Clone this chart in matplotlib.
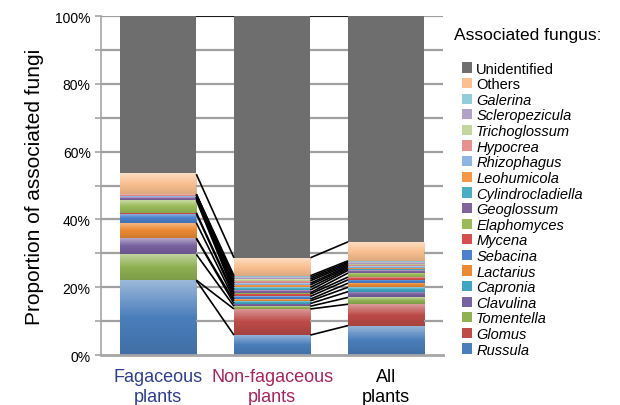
import numpy as np
import matplotlib.pyplot as plt
from matplotlib.colors import LinearSegmentedColormap, to_rgb
from matplotlib.patches import Patch

plt.rcParams['font.family'] = ['Liberation Sans', 'DejaVu Sans']

groups = ['Fagaceous\nplants', 'Non-fagaceous\nplants', 'All\nplants']
group_colors = ['#2f3d8f', '#a8245e', '#000000']

# bottom to top
genera = ['Russula', 'Glomus', 'Tomentella', 'Clavulina', 'Capronia', 'Lactarius',
          'Sebacina', 'Mycena', 'Elaphomyces', 'Geoglossum', 'Cylindrocladiella',
          'Leohumicola', 'Rhizophagus', 'Hypocrea', 'Trichoglossum', 'Scleropezicula',
          'Galerina', 'Others', 'Unidentified']

fagaceous = [22.0, 0.1, 7.6, 4.7, 0.1, 4.5, 2.7, 0.3, 3.7, 0.8, 0.05,
             0.05, 0.2, 0.5, 0.05, 0.05, 0.05, 5.9]
non_fagaceous = [5.9, 7.7, 0.8, 0.8, 0.8, 0.5, 0.8, 0.7, 0.4, 0.8, 0.8,
                 0.7, 0.5, 0.7, 0.5, 0.5, 0.5, 5.3]
all_plants = [8.7, 6.3, 2.0, 1.7, 1.3, 1.2, 1.0, 0.8, 1.2, 0.8, 0.4,
              0.4, 0.4, 0.4, 0.4, 0.4, 0.4, 5.6]

colors = ['#4a7ebb', '#bd4b48', '#8fb152', '#7861a0', '#40a5c0', '#ec8a34',
          '#4a80cc', '#d4504c', '#9bbb59', '#8064a2', '#4bacc6', '#f79646',
          '#8eb4e3', '#e8928f', '#c3d69b', '#b3a2c7', '#93cddd', '#fac090',
          '#6e6e6e']

data = []
for vals in (fagaceous, non_fagaceous, all_plants):
    vals = list(vals)
    vals.append(100 - sum(vals))
    data.append(vals)
data = np.array(data)  # groups x genera

fig = plt.figure(figsize=(6.2, 4.06), dpi=100)
ax = fig.add_axes([0.163, 0.123, 0.552, 0.835])

x = np.arange(len(groups))
w = 0.67
bottoms = np.zeros(len(groups))

for j, name in enumerate(genera):
    base = np.array(to_rgb(colors[j]))
    bars = ax.bar(x, data[:, j], w, bottom=bottoms, color=colors[j], zorder=2, linewidth=0)
    if name != 'Unidentified':
        light = base + (1 - base) * 0.45
        dark = base * 0.88
        cmap = LinearSegmentedColormap.from_list('g', [dark, base, light])
        grad = np.linspace(1, 0, 64).reshape(-1, 1)
        for i, b in enumerate(bars):
            if data[i, j] < 0.3:
                continue
            ax.imshow(grad, cmap=cmap, aspect='auto', zorder=2.5, interpolation='nearest',
                      extent=[b.get_x(), b.get_x() + w, bottoms[i], bottoms[i] + data[i, j]])
    bottoms += data[:, j]

# gridlines in the gaps between bars
gap_left = np.concatenate([[-0.5], x + w / 2])
gap_right = np.concatenate([x - w / 2, [2.5]])
for v in range(10, 101, 10):
    ax.hlines([v] * len(gap_left), gap_left, gap_right, color='#a0a0a0', lw=1.6, zorder=2.8)

# connector lines between bars
cum = np.cumsum(data, axis=1)
for i in range(len(groups) - 1):
    for j in range(len(genera)):
        ax.plot([x[i] + w / 2, x[i + 1] - w / 2], [cum[i, j], cum[i + 1, j]],
                color='black', lw=1.2, zorder=3, solid_capstyle='butt')

ax.set_xlim(-0.5, 2.5)
ax.set_ylim(0, 100)
ax.set_yticks(np.arange(0, 101, 10))
ax.set_yticklabels([f'{v}%' if v % 20 == 0 else '' for v in range(0, 101, 10)], fontsize=10)
ax.tick_params(axis='y', direction='out', length=4, color='#a6a6a6', width=1.2)
ax.set_xticks(x)
ax.set_xticklabels(groups, fontsize=13, linespacing=1.3)
for lbl, c in zip(ax.get_xticklabels(), group_colors):
    lbl.set_color(c)
ax.tick_params(axis='x', length=0, pad=9)
for s in ['top', 'right']:
    ax.spines[s].set_visible(False)
ax.spines['left'].set_color('#a6a6a6')
ax.spines['left'].set_linewidth(1.2)
ax.spines['bottom'].set_color('#a6a6a6')
ax.spines['bottom'].set_linewidth(2)
ax.set_ylabel('Proportion of associated fungi', fontsize=15, labelpad=8)

handles = [Patch(facecolor=colors[j], label=genera[j]) for j in range(len(genera))][::-1]
leg = fig.legend(handles=handles, loc='upper left', bbox_to_anchor=(0.735, 0.86),
                 frameon=False, fontsize=10.5, handlelength=0.7, handleheight=0.7,
                 handletextpad=0.3, labelspacing=0.11, borderaxespad=0)
for t in leg.get_texts():
    if t.get_text() not in ('Others', 'Unidentified'):
        t.set_fontstyle('italic')
fig.text(0.733, 0.912, 'Associated fungus:', fontsize=12.5, va='center')

fig.savefig('out.png', dpi=100)
